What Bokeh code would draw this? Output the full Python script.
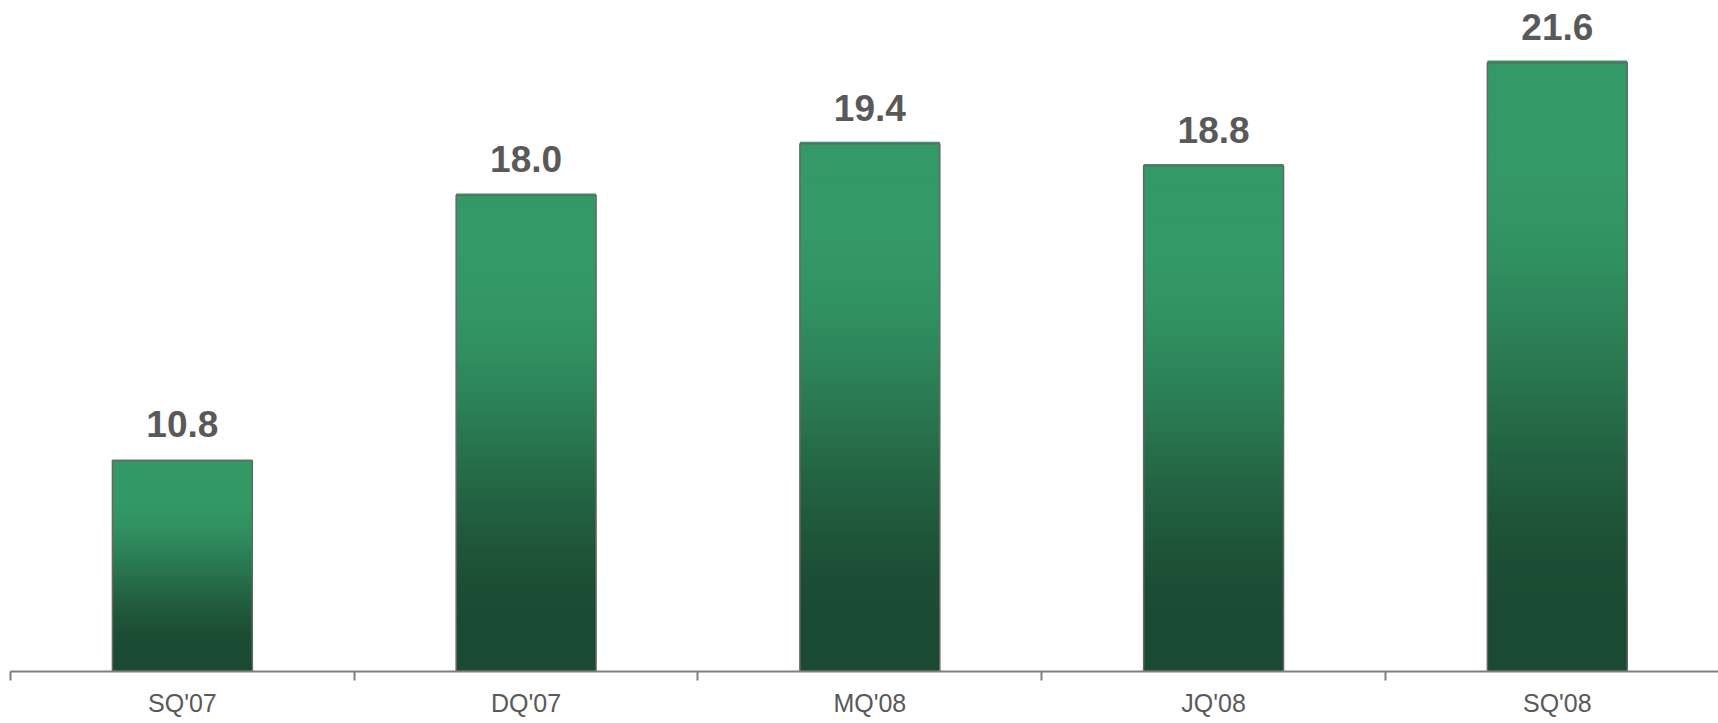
from bokeh.plotting import figure
from bokeh.models import FixedTicker, Range1d, ColumnDataSource
from bokeh.embed import file_html
from bokeh.resources import INLINE
from bokeh.core.properties import value

# ---- data ----
categories = ["SQ'07", "DQ'07", "MQ'08", "JQ'08", "SQ'08"]
values = [10.8, 18.0, 19.4, 18.8, 21.6]
value_labels = ["10.8", "18.0", "19.4", "18.8", "21.6"]

# ---- style ----
Y_START = 5.07
Y_END = 23.29
BAR_W = 0.407
LIGHT = (51, 153, 102)
DARK = (27, 74, 50)
N_SLICES = 80
GREY = "#595959"
FONT = "Liberation Sans"

xs = list(range(len(categories)))

p = figure(width=1718, height=723, output_backend="svg", toolbar_location=None,
           x_range=Range1d(-0.5, -0.5 + 1708 / 343.74),
           y_range=Range1d(Y_START, Y_END),
           y_axis_location=None, tools="")
p.min_border_left = 10
p.min_border_right = 0
p.min_border_top = 0
p.min_border_bottom = 52
p.outline_line_color = None
p.xgrid.visible = False
p.ygrid.visible = False
p.background_fill_color = "white"
p.border_fill_color = "white"


def smooth(t):
    t = min(max(t, 0.0), 1.0)
    return t * t * (3 - 2 * t)


# gradient fill made of thin slices per bar
left, right, bottom, top, colors = [], [], [], [], []
for x, v in zip(xs, values):
    h = v - Y_START
    for i in range(N_SLICES):
        b = Y_START + h * i / N_SLICES
        t_ = Y_START + h * (i + 1) / N_SLICES
        frac_from_top = 1 - (i + 0.5) / N_SLICES
        s = smooth((frac_from_top - 0.15) / 0.78)
        c = tuple(int(round(LIGHT[k] + (DARK[k] - LIGHT[k]) * s)) for k in range(3))
        left.append(x - BAR_W / 2)
        right.append(x + BAR_W / 2)
        bottom.append(b)
        top.append(t_ + h / N_SLICES * 0.3)
        colors.append("#%02x%02x%02x" % c)

p.quad(left=left, right=right, bottom=bottom, top=top, fill_color=colors, line_color=None)

src = ColumnDataSource(dict(x=xs, top=values, label=value_labels))
p.vbar(x="x", top="top", bottom=Y_START, width=BAR_W, source=src,
       fill_color=None, line_color="#666666", line_width=1.5)

p.text(x="x", y="top", text="label", source=src, y_offset=-36,
       text_align="center", text_baseline="alphabetic",
       text_font=value(FONT), text_font_style="bold", text_font_size="37px",
       text_color=GREY)

ax = p.xaxis[0]
ax.ticker = FixedTicker(ticks=xs, minor_ticks=[x - 0.5 for x in xs] + [xs[-1] + 0.5])
ax.major_label_overrides = {x: c for x, c in zip(xs, categories)}
ax.major_tick_out = 0
ax.major_tick_in = 0
ax.minor_tick_out = 9
ax.minor_tick_in = 0
ax.minor_tick_line_color = "#7f7f7f"
ax.minor_tick_line_width = 2
ax.axis_line_color = "#7f7f7f"
ax.axis_line_width = 2
ax.major_label_standoff = 8
ax.major_label_text_font = FONT
ax.major_label_text_font_size = "25px"
ax.major_label_text_color = GREY

open("out.html", "w").write(file_html(p, INLINE))
